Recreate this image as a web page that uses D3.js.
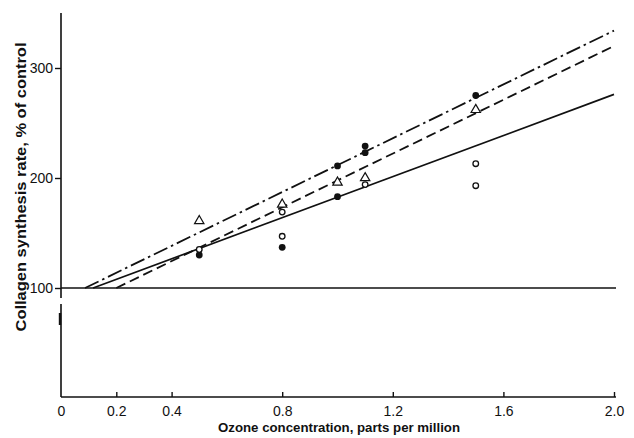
<!DOCTYPE html>
<meta charset="utf-8">
<style>
    body { margin: 0; background: #fff; }
    svg { display: block; }
    text { font-family: "Liberation Sans", Arial, sans-serif; fill: #111; }
</style>
<body>
<svg width="634" height="438"></svg>
<script src="https://d3js.org/d3.v7.min.js"></script>
<script>
    // values
    var xTicks = [0, 0.2, 0.4, 0.8, 1.2, 1.6, 2.0];
    var xTickLabels = ["0", "0.2", "0.4", "0.8", "1.2", "1.6", "2.0"];
    var yTicks = [100, 200, 300];

    var filledPts = [[0.5, 130], [0.8, 137], [1.0, 211], [1.0, 183], [1.1, 229], [1.1, 223], [1.5, 275]];
    var openPts = [[0.5, 135], [0.8, 169], [0.8, 147], [1.1, 194], [1.5, 213], [1.5, 193]];
    var trianglePts = [[0.5, 161], [0.8, 176], [1.0, 196], [1.1, 200], [1.5, 262]];

    var solidLine = [[0.116, 100], [2.0, 276]];
    var dashedLine = [[0.2, 100], [2.0, 320]];
    var dashDotLine = [[0.087, 100], [2.0, 334]];
    var controlLevel = 100;

    var svg = d3.select("svg");
    var plotLeft = 61, plotRight = 614, plotTop = 13, plotBottom = 398;

    var x = d3.scaleLinear().domain([0, 2.0]).range([plotLeft, plotRight]);
    var y = d3.scaleLinear().domain([0, 350]).range([plotBottom, plotTop]);

    var ink = "#111";

    // x axis (ticks point up)
    var xAxis = d3.axisBottom(x)
        .tickValues(xTicks)
        .tickFormat(function (d, i) { return xTickLabels[i]; })
        .tickSize(-5)
        .tickSizeOuter(0)
        .tickPadding(9);
    var gx = svg.append("g")
        .attr("transform", "translate(0," + (plotBottom - 1) + ")")
        .call(xAxis);
    gx.select(".domain").attr("d", "M" + plotLeft + ",0H" + (plotRight + 2)).attr("stroke", ink).attr("stroke-width", 1.6);
    gx.selectAll(".tick line").attr("stroke", ink).attr("stroke-width", 1.4)
        .filter(function (d) { return d === 0; }).remove();
    gx.selectAll(".tick text").style("font-size", "14px").attr("font-family", null);

    // y axis (ticks point left), with a small break below 100
    var yAxis = d3.axisLeft(y).tickValues(yTicks).tickSize(6).tickSizeOuter(0).tickPadding(2);
    var gy = svg.append("g")
        .attr("transform", "translate(" + plotLeft + ",0)")
        .call(yAxis);
    gy.select(".domain").remove();
    gy.append("path")
        .attr("d", "M0," + plotTop + "V" + (y(controlLevel) + 10) + "M0," + (y(controlLevel) + 16) + "V" + (plotBottom - 1))
        .attr("stroke", ink).attr("stroke-width", 1.6).attr("fill", "none");
    gy.append("path")
        .attr("d", "M-1," + (y(controlLevel) + 25) + "V" + (y(controlLevel) + 37))
        .attr("stroke", ink).attr("stroke-width", 2.4);
    gy.selectAll(".tick line").attr("stroke", ink).attr("stroke-width", 1.4);
    gy.selectAll(".tick text").style("font-size", "14px").attr("font-family", null);

    // control level
    svg.append("line")
        .attr("x1", x(0)).attr("x2", plotRight + 2)
        .attr("y1", y(controlLevel)).attr("y2", y(controlLevel))
        .attr("stroke", ink).attr("stroke-width", 1.5);

    var line = d3.line().x(function (d) { return x(d[0]); }).y(function (d) { return y(d[1]); });

    svg.append("path").datum(solidLine).attr("d", line)
        .attr("fill", "none").attr("stroke", ink).attr("stroke-width", 1.7);
    svg.append("path").datum(dashedLine).attr("d", line)
        .attr("fill", "none").attr("stroke", ink).attr("stroke-width", 1.8)
        .attr("stroke-dasharray", "10,5");
    svg.append("path").datum(dashDotLine).attr("d", line)
        .attr("fill", "none").attr("stroke", ink).attr("stroke-width", 1.8)
        .attr("stroke-dasharray", "15,4,2.5,4");

    // markers
    svg.selectAll(".filled").data(filledPts).enter().append("circle")
        .attr("class", "filled")
        .attr("cx", function (d) { return x(d[0]); })
        .attr("cy", function (d) { return y(d[1]); })
        .attr("r", 3.4).attr("fill", ink);

    svg.selectAll(".open").data(openPts).enter().append("circle")
        .attr("class", "open")
        .attr("cx", function (d) { return x(d[0]); })
        .attr("cy", function (d) { return y(d[1]); })
        .attr("r", 2.8).attr("fill", "#fff").attr("stroke", ink).attr("stroke-width", 1.3);

    var tri = d3.symbol().type(d3.symbolTriangle).size(38);
    svg.selectAll(".tri").data(trianglePts).enter().append("path")
        .attr("class", "tri")
        .attr("transform", function (d) { return "translate(" + x(d[0]) + "," + y(d[1]) + ")"; })
        .attr("d", tri)
        .attr("fill", "#fff").attr("stroke", ink).attr("stroke-width", 1.2);

    // axis titles
    svg.append("text")
        .attr("x", 339).attr("y", 432)
        .attr("text-anchor", "middle")
        .attr("textLength", 242).attr("lengthAdjust", "spacingAndGlyphs")
        .style("font-size", "13px").style("font-weight", "bold")
        .text("Ozone concentration, parts per million");

    svg.append("text")
        .attr("transform", "translate(26,187) rotate(-90)")
        .attr("text-anchor", "middle")
        .attr("textLength", 289).attr("lengthAdjust", "spacingAndGlyphs")
        .style("font-size", "14px").style("font-weight", "bold")
        .text("Collagen synthesis rate, % of control");
</script>
</body>
